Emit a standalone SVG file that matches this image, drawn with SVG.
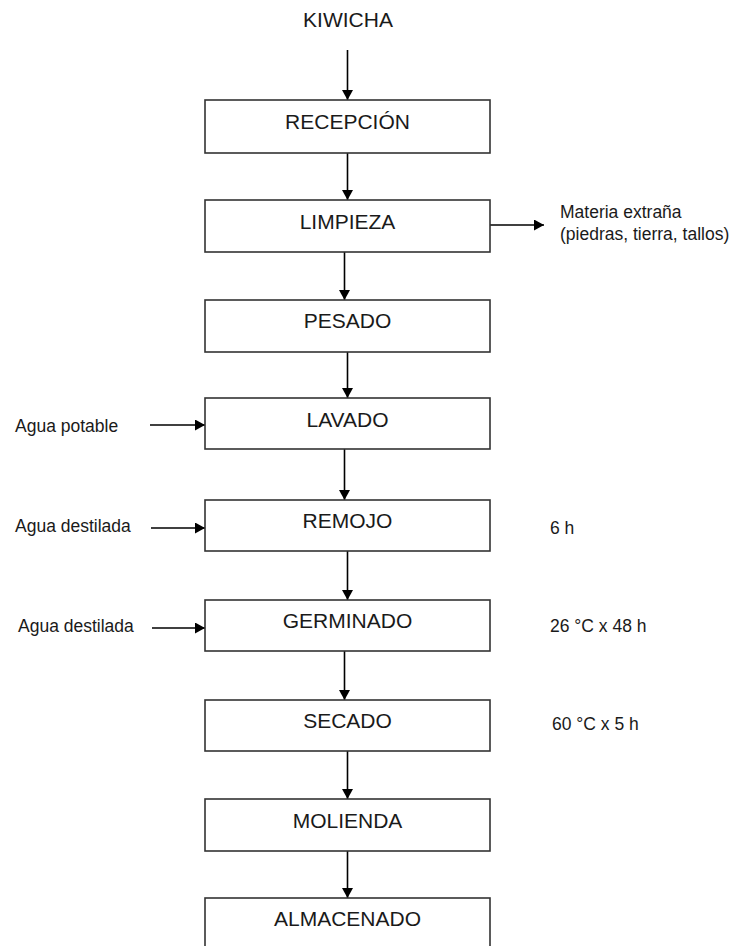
<svg xmlns="http://www.w3.org/2000/svg" width="730" height="946" viewBox="0 0 730 946">
<defs>
<marker id="ah" markerWidth="10" markerHeight="11" refX="10" refY="5.5" orient="auto" markerUnits="userSpaceOnUse">
<path d="M0,0 L10,5.5 L0,11 Z" fill="#000"/>
</marker>
<style>
.box{fill:#fff;stroke:#333;stroke-width:1.6}
.lbl{font-family:"Liberation Sans",Arial,sans-serif;font-size:21px;fill:#1a1a1a;text-anchor:middle}
.sm{font-family:"Liberation Sans",Arial,sans-serif;font-size:17.5px;fill:#1a1a1a}
.con{stroke:#000;stroke-width:1.6;fill:none;marker-end:url(#ah)}
</style>
</defs>
<rect width="730" height="946" fill="#fff"/>
<g id="connectors">
<line class="con" x1="347.5" y1="50" x2="347.5" y2="100"/>
<line class="con" x1="347.5" y1="153" x2="347.5" y2="200"/>
<line class="con" x1="344.5" y1="252" x2="344.5" y2="300"/>
<line class="con" x1="347.5" y1="352" x2="347.5" y2="398"/>
<line class="con" x1="344.5" y1="449" x2="344.5" y2="500"/>
<line class="con" x1="347.5" y1="551" x2="347.5" y2="600"/>
<line class="con" x1="344.5" y1="651" x2="344.5" y2="700"/>
<line class="con" x1="347.5" y1="751" x2="347.5" y2="799"/>
<line class="con" x1="347.5" y1="851" x2="347.5" y2="898"/>
<line class="con" x1="490" y1="225" x2="544" y2="225"/>
<line class="con" x1="150" y1="425" x2="205" y2="425"/>
<line class="con" x1="151" y1="528" x2="205" y2="528"/>
<line class="con" x1="152" y1="628" x2="205" y2="628"/>
</g>
<g id="kiwicha"><text class="lbl" x="348" y="27">KIWICHA</text></g>
<g id="recepcion"><rect class="box" x="205" y="100" width="285" height="53"/><text class="lbl" x="347.5" y="129">RECEPCIÓN</text></g>
<g id="limpieza"><rect class="box" x="205" y="200" width="285" height="52"/><text class="lbl" x="347.5" y="229">LIMPIEZA</text></g>
<g id="pesado"><rect class="box" x="205" y="300" width="285" height="52"/><text class="lbl" x="347.5" y="328">PESADO</text></g>
<g id="lavado"><rect class="box" x="205" y="398" width="285" height="51"/><text class="lbl" x="347.5" y="427">LAVADO</text></g>
<g id="remojo"><rect class="box" x="205" y="500" width="285" height="51"/><text class="lbl" x="347.5" y="528">REMOJO</text></g>
<g id="germinado"><rect class="box" x="205" y="600" width="285" height="51"/><text class="lbl" x="347.5" y="628">GERMINADO</text></g>
<g id="secado"><rect class="box" x="205" y="700" width="285" height="51"/><text class="lbl" x="347.5" y="728">SECADO</text></g>
<g id="molienda"><rect class="box" x="205" y="799" width="285" height="52"/><text class="lbl" x="347.5" y="828">MOLIENDA</text></g>
<g id="almacenado"><rect class="box" x="205" y="898" width="285" height="60"/><text class="lbl" x="347.5" y="926">ALMACENADO</text></g>
<g id="materia"><text class="sm" x="560" y="218">Materia extraña</text><text class="sm" x="560" y="240">(piedras, tierra, tallos)</text></g>
<g id="agua-potable"><text class="sm" x="15" y="432">Agua potable</text></g>
<g id="agua-destilada-1"><text class="sm" x="15" y="532">Agua destilada</text></g>
<g id="agua-destilada-2"><text class="sm" x="18" y="632">Agua destilada</text></g>
<g id="t-remojo"><text class="sm" x="550" y="534">6 h</text></g>
<g id="t-germinado"><text class="sm" x="550" y="632">26 °C x 48 h</text></g>
<g id="t-secado"><text class="sm" x="552" y="730">60 °C x 5 h</text></g>
</svg>
